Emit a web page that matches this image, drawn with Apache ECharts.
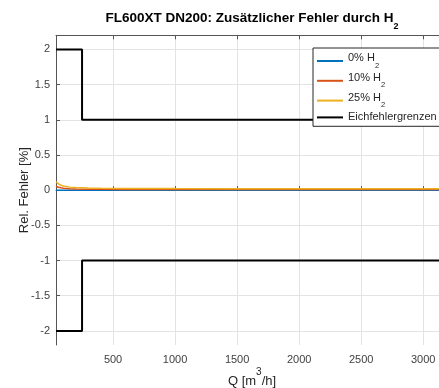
<!DOCTYPE html>
<html>
<head>
<meta charset="utf-8">
<title>FL600XT DN200</title>
<script src="https://cdn.jsdelivr.net/npm/echarts@6/dist/echarts.min.js"></script>
<style>
    html, body { margin: 0; padding: 0; background: #fff; }
    #chart { width: 439px; height: 388px; }
</style>
</head>
<body>
<div id="chart"></div>
<script>
// Durchfluss Q [m3/h] und Zusatzfehler [%]
var qValues = [40, 60, 80, 100, 150, 200, 300, 400, 600, 800, 1000, 1500, 2000, 2500, 3000, 3200];
var err0 = [0, 0, 0, 0, 0, 0, 0, 0, 0, 0, 0, 0, 0, 0, 0, 0];
var err10 = [0.055, 0.042, 0.033, 0.027, 0.02, 0.016, 0.013, 0.012, 0.011, 0.01, 0.01, 0.009, 0.009, 0.009, 0.009, 0.009];
var err25 = [0.12, 0.09, 0.07, 0.058, 0.043, 0.036, 0.03, 0.027, 0.024, 0.023, 0.022, 0.021, 0.021, 0.02, 0.02, 0.02];

// Eichfehlergrenzen
var limitQ = [40, 250, 250, 3200];
var limitUpper = [2, 2, 1, 1];
var limitLower = [-2, -2, -1, -1];

var seriesNames = ["0% H2", "10% H2", "25% H2", "Eichfehlergrenzen"];
var xTicks = [500, 1000, 1500, 2000, 2500, 3000];
var yTicks = [-2, -1.5, -1, -0.5, 0, 0.5, 1, 1.5, 2];

var FONT = "Liberation Sans";
var AXIS_COLOR = "#555555";

function pairs(xs, ys) {
    var out = [];
    for (var i = 0; i < xs.length; ++i) {
        out.push([xs[i], ys[i]]);
    }
    return out;
}

function legendLabel(name) {
    if (/H2$/.test(name)) {
        return "{a|" + name.substring(0, name.length - 1) + "}{s|2}";
    }
    return "{a|" + name + "}";
}

function lineSeries(name, data, color, width) {
    return {
        name: name,
        type: "line",
        data: data,
        symbol: "none",
        silent: true,
        animation: false,
        lineStyle: { color: color, width: width },
        itemStyle: { color: color }
    };
}

var chart = echarts.init(document.getElementById("chart"), null, { renderer: "canvas" });

var option = {
    backgroundColor: "#ffffff",
    animation: false,
    textStyle: { fontFamily: FONT },
    title: {
        text: "{t|FL600XT DN200: Zusätzlicher Fehler durch H}{s|2}",
        left: 252,
        top: 11,
        padding: 0,
        textAlign: "center",
        textStyle: {
            rich: {
                t: { fontFamily: FONT, fontSize: 13.5, fontWeight: "bold", color: "#000", verticalAlign: "top" },
                s: { fontFamily: FONT, fontSize: 9, fontWeight: "bold", color: "#000", verticalAlign: "bottom", padding: [11, 0, 0, 0] }
            }
        }
    },
    legend: {
        orient: "vertical",
        left: 313,
        top: 48,
        padding: [4.5, 3, 3.4, 4],
        itemGap: 2.8,
        itemWidth: 26,
        itemHeight: 2,
        icon: "rect",
        backgroundColor: "#ffffff",
        borderColor: "#262626",
        borderWidth: 1,
        borderRadius: 0,
        data: seriesNames,
        formatter: legendLabel,
        textStyle: {
            rich: {
                a: { fontFamily: FONT, fontSize: 11, color: "#262626", verticalAlign: "top" },
                s: { fontFamily: FONT, fontSize: 7.5, color: "#262626", verticalAlign: "bottom", padding: [9, 0, 0, 0] }
            }
        }
    },
    grid: {
        left: 56,
        top: 35.3,
        right: -9,
        bottom: 43,
        containLabel: false,
        outerBoundsMode: "none"
    },
    xAxis: [{
        type: "value",
        min: 40,
        max: 3200,
        position: "bottom",
        name: "{a|Q [m}{p|3}{a|/h]}",
        nameLocation: "middle",
        nameGap: 22,
        nameMoveOverlap: false,
        nameTextStyle: {
            rich: {
                a: { fontFamily: FONT, fontSize: 13, color: "#262626", verticalAlign: "bottom" },
                p: { fontFamily: FONT, fontSize: 10, color: "#262626", verticalAlign: "top", padding: [0, 0, 11, 0] }
            }
        },
        axisLine: { show: true, lineStyle: { color: AXIS_COLOR, width: 1 } },
        axisTick: { show: true, inside: true, length: 4, customValues: xTicks, lineStyle: { color: AXIS_COLOR } },
        axisLabel: {
            show: true, customValues: xTicks, margin: 9, fontFamily: FONT, fontSize: 11, color: "#404040",
            formatter: function (v) { return String(v); }
        },
        splitLine: { show: true, lineStyle: { color: "#e3e3e3", width: 1 } }
    }, {
        type: "value",
        min: 40,
        max: 3200,
        position: "top",
        axisLine: { show: true, onZero: false, lineStyle: { color: AXIS_COLOR, width: 1 } },
        axisTick: { show: true, inside: true, length: 4, customValues: xTicks, lineStyle: { color: AXIS_COLOR } },
        axisLabel: { show: false },
        splitLine: { show: false }
    }],
    yAxis: {
        type: "value",
        min: -2.2,
        max: 2.2,
        name: "Rel. Fehler [%]",
        nameLocation: "middle",
        nameRotate: 90,
        nameGap: 25.5,
        nameMoveOverlap: false,
        nameTextStyle: { fontFamily: FONT, fontSize: 13, color: "#262626" },
        axisLine: { show: true, onZero: false, lineStyle: { color: AXIS_COLOR, width: 1 } },
        axisTick: { show: true, inside: true, length: 4, customValues: yTicks, lineStyle: { color: AXIS_COLOR } },
        axisLabel: { show: true, customValues: yTicks, margin: 6, fontFamily: FONT, fontSize: 11, color: "#404040" },
        splitLine: { show: true, lineStyle: { color: "#e3e3e3", width: 1 } }
    },
    series: [
        lineSeries(seriesNames[0], pairs(qValues, err0), "#0072BD", 1.5),
        lineSeries(seriesNames[1], pairs(qValues, err10), "#D95319", 1.5),
        lineSeries(seriesNames[2], pairs(qValues, err25), "#EDB120", 1.5),
        lineSeries(seriesNames[3], pairs(limitQ, limitUpper), "#000000", 2),
        lineSeries(seriesNames[3], pairs(limitQ, limitLower), "#000000", 2)
    ]
};

chart.setOption(option);
</script>
</body>
</html>
